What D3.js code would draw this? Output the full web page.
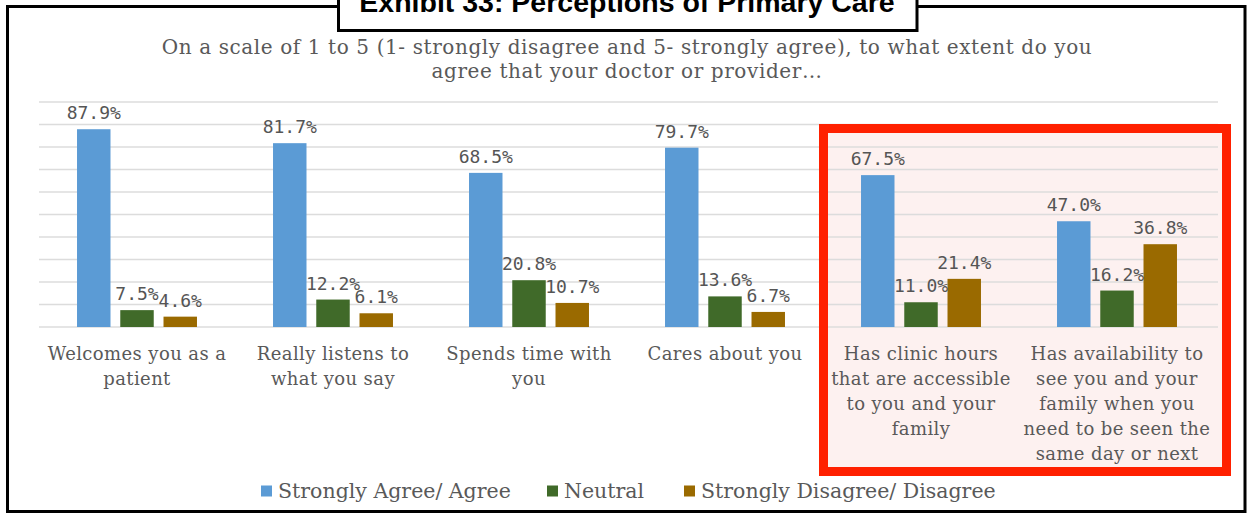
<!DOCTYPE html>
<html>
<head>
<meta charset="utf-8">
<script src="https://cdn.jsdelivr.net/npm/d3@7"></script>
<style>
  html, body { margin: 0; padding: 0; background: #fff; }
  svg { display: block; }
</style>
</head>
<body>
<svg id="chart" width="1249" height="517"></svg>
<script>
// ---------- data ----------
const title = "Exhibit 33: Perceptions of Primary Care";
const subtitleLines = [
  "On a scale of 1 to 5 (1- strongly disagree and  5- strongly agree), to what extent do you",
  "agree that your doctor or provider…"
];
const categories = [
  "Welcomes you as a patient",
  "Really listens to what you say",
  "Spends time with you",
  "Cares about you",
  "Has clinic hours that are accessible to you and your family",
  "Has availability to see you and your family when you need to be seen the same day or next"
];
const categoryLabelLines = [
  ["Welcomes you as a", "patient"],
  ["Really listens to", "what you say"],
  ["Spends time with", "you"],
  ["Cares about you"],
  ["Has clinic hours", "that are accessible", "to you and your", "family"],
  ["Has availability to", "see you and your", "family when you", "need to be seen the", "same day or next"]
];
const seriesNames = ["Strongly Agree/ Agree", "Neutral", "Strongly Disagree/ Disagree"];
const agree    = [87.9, 81.7, 68.5, 79.7, 67.5, 47.0];
const neutral  = [7.5, 12.2, 20.8, 13.6, 11.0, 16.2];
const disagree = [4.6, 6.1, 10.7, 6.7, 21.4, 36.8];
const seriesValues = [agree, neutral, disagree];
const seriesColors = ["#5b9bd5", "#406a29", "#9a6a00"];
const yTicks = [0, 10, 20, 30, 40, 50, 60, 70, 80, 90, 100];
const highlighted = [categories[4], categories[5]];

// ---------- layout ----------
const svg = d3.select("#chart");
const plotLeft = 39, plotRight = 1215, plotTop = 102, plotBottom = 327;

const x0 = d3.scaleBand().domain(categories).range([plotLeft, plotRight])
  .paddingInner(0.388).paddingOuter(0.194);
const x1 = d3.scaleBand().domain(seriesNames).range([0, x0.bandwidth()]).paddingInner(0.226);
const y = d3.scaleLinear().domain([0, 100]).range([plotBottom, plotTop]);
const color = d3.scaleOrdinal().domain(seriesNames).range(seriesColors);

const serif = "'DejaVu Serif', serif";
const mono = "'DejaVu Sans Mono', monospace";

// highlight box background
const step = x0.step();
const hlLeft = x0(highlighted[0]) - step * 0.194 - 4;
const hlRight = plotRight + 16;
const hlTop = 124, hlBottom = 476;
svg.append("rect")
  .attr("x", hlLeft).attr("y", hlTop)
  .attr("width", hlRight - hlLeft).attr("height", hlBottom - hlTop)
  .attr("fill", "#fdf1f0");

// gridlines
svg.append("g").selectAll("line").data(yTicks).join("line")
  .attr("x1", plotLeft).attr("x2", plotRight + 3)
  .attr("y1", d => y(d)).attr("y2", d => y(d))
  .attr("stroke", "#dcdcdc").attr("stroke-width", 1.5);

// bars
const rows = categories.map((c, i) => ({
  cat: c,
  vals: seriesNames.map((s, j) => ({ s, v: seriesValues[j][i] }))
}));
const groups = svg.append("g").selectAll("g").data(rows).join("g")
  .attr("transform", d => `translate(${x0(d.cat)},0)`);
groups.selectAll("rect").data(d => d.vals).join("rect")
  .attr("x", d => x1(d.s)).attr("width", x1.bandwidth())
  .attr("y", d => y(d.v)).attr("height", d => y(0) - y(d.v))
  .attr("fill", d => color(d.s));
groups.selectAll("text").data(d => d.vals).join("text")
  .attr("x", d => x1(d.s) + x1.bandwidth() / 2)
  .attr("y", d => y(d.v) - 10)
  .attr("text-anchor", "middle")
  .attr("font-family", mono).attr("font-size", 18)
  .attr("fill", "#555")
  .text(d => d.v.toFixed(1) + "%");

// category labels
const catG = svg.append("g");
categories.forEach((c, i) => {
  const cx = x0(c) + x0.bandwidth() / 2;
  const t = catG.append("text")
    .attr("x", cx).attr("y", 360)
    .attr("text-anchor", "middle")
    .attr("font-family", serif).attr("font-size", 18)
    .attr("letter-spacing", 0.4)
    .attr("fill", "#595959");
  categoryLabelLines[i].forEach((ln, k) => {
    t.append("tspan").attr("x", cx).attr("dy", k === 0 ? 0 : 25).text(ln);
  });
});

// highlight red border
svg.append("rect")
  .attr("x", hlLeft + 4.5).attr("y", hlTop + 4.5)
  .attr("width", hlRight - hlLeft - 9).attr("height", hlBottom - hlTop - 9)
  .attr("fill", "none").attr("stroke", "#ff2000").attr("stroke-width", 9);

// subtitle
svg.append("g").selectAll("text").data(subtitleLines).join("text")
  .attr("x", 627).attr("y", (d, i) => 54 + i * 24)
  .attr("text-anchor", "middle")
  .attr("font-family", serif).attr("font-size", 20)
  .attr("letter-spacing", 0.6)
  .attr("fill", "#595959")
  .text(d => d);

// legend
const legendX = [261, 547, 684];
const lg = svg.append("g").selectAll("g").data(seriesNames).join("g")
  .attr("transform", (d, i) => `translate(${legendX[i]},491)`);
lg.append("rect").attr("x", 0).attr("y", -5.5).attr("width", 11).attr("height", 11)
  .attr("fill", d => color(d));
lg.append("text").attr("x", 17).attr("y", 7)
  .attr("font-family", serif).attr("font-size", 20.5)
  .attr("fill", "#595959").text(d => d);

// outer frame
svg.append("rect").attr("x", 7.5).attr("y", 6.5).attr("width", 1237.5).attr("height", 505)
  .attr("fill", "none").attr("stroke", "#000").attr("stroke-width", 3);

// title box
svg.append("rect").attr("x", 338.5).attr("y", -5).attr("width", 578.5).attr("height", 35.5)
  .attr("fill", "#fff").attr("stroke", "#000").attr("stroke-width", 3);
svg.append("text").attr("x", 627).attr("y", 12)
  .attr("text-anchor", "middle")
  .attr("font-family", "'Liberation Sans', Arial, sans-serif")
  .attr("font-weight", "bold").attr("font-size", 28.5)
  .attr("fill", "#000").text(title);
</script>
</body>
</html>
